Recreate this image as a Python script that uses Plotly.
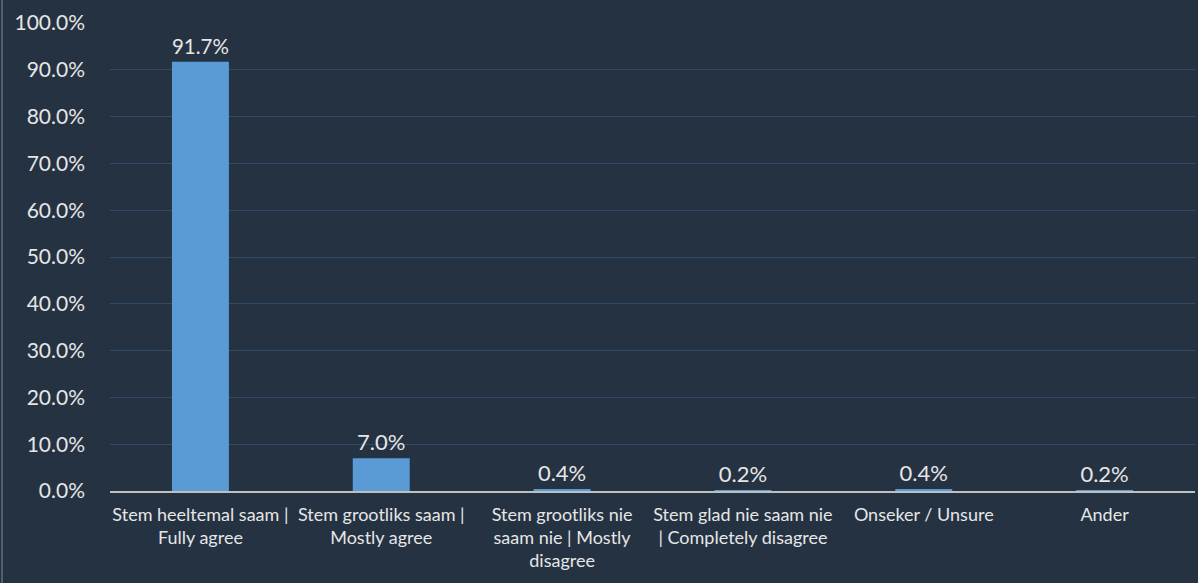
import plotly.graph_objects as go

# Survey response categories (Afrikaans | English)
categories = [
    "Stem heeltemal saam |<br>Fully agree",
    "Stem grootliks saam |<br>Mostly agree",
    "Stem grootliks nie<br>saam nie | Mostly<br>disagree",
    "Stem glad nie saam nie<br>| Completely disagree",
    "Onseker / Unsure",
    "Ander",
]
# Share of respondents, percent
values = [91.7, 7.0, 0.4, 0.2, 0.4, 0.2]
tick_values = [0, 10, 20, 30, 40, 50, 60, 70, 80, 90, 100]
tick_labels = [f"{t:.1f}%" for t in tick_values]

BG = "#243242"
TEXT = "#E6E6E6"
FONT = "Lato, 'Open Sans', sans-serif"

fig = go.Figure(
    go.Bar(
        x=categories,
        y=values,
        marker=dict(color="#5B9BD5", line=dict(width=0)),
        text=[f"{v:.1f}%" for v in values],
        textposition="outside",
        textfont=dict(color=TEXT, size=22, family=FONT),
        cliponaxis=False,
    )
)

fig.update_layout(
    width=1198,
    height=583,
    paper_bgcolor=BG,
    plot_bgcolor=BG,
    margin=dict(l=110, r=3, t=23, b=92),
    bargap=0.685,
    showlegend=False,
    font=dict(family=FONT, color=TEXT),
    xaxis=dict(
        tickfont=dict(size=18, color=TEXT, family=FONT),
        showgrid=False,
        showline=True,
        linecolor="#BFBFBF",
        linewidth=2,
        ticks="",
        tickangle=0,
        ticklabelstandoff=6,
        fixedrange=True,
    ),
    yaxis=dict(
        range=[0, 100],
        tickvals=tick_values,
        ticktext=tick_labels,
        tickfont=dict(size=21, color=TEXT, family=FONT),
        showgrid=True,
        gridcolor="#2F4B69",
        gridwidth=1,
        zeroline=False,
        showline=False,
        ticks="",
        ticklabelstandoff=24,
        fixedrange=True,
    ),
    shapes=[
        dict(
            type="line", xref="paper", yref="paper",
            x0=-0.0995, x1=-0.0995, y0=-92 / 468, y1=1 + 23 / 468,
            line=dict(color="#7F8B98", width=1),
        )
    ],
)

fig.write_html("out.html")
